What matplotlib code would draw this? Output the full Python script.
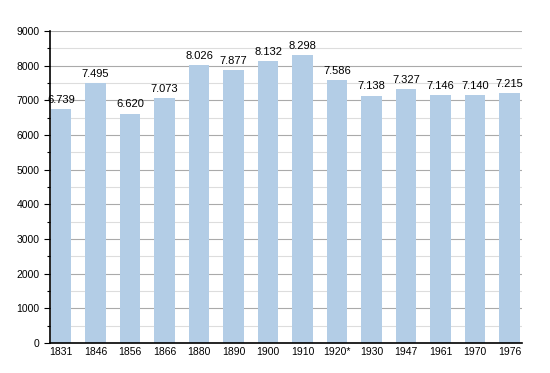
import matplotlib.pyplot as plt
from matplotlib.ticker import MultipleLocator

years = ['1831', '1846', '1856', '1866', '1880', '1890', '1900', '1910',
         '1920*', '1930', '1947', '1961', '1970', '1976']
population = [6739, 7495, 6620, 7073, 8026, 7877, 8132, 8298,
              7586, 7138, 7327, 7146, 7140, 7215]

plt.rcParams['font.family'] = ['Liberation Sans', 'DejaVu Sans']

fig = plt.figure(figsize=(5.5, 3.73), dpi=100)
ax = fig.add_axes([0.0909, 0.0804, 0.858, 0.8365])

x = list(range(len(years)))
ax.bar(x, population, width=0.6, color='#b3cde6', zorder=2)

for xi, v in zip(x, population):
    label = f'{v:,}'.replace(',', '.')
    ax.text(xi, v + 120, label, ha='center', va='bottom', fontsize=8, zorder=3)

ax.set_xlim(-0.32, 13.36)
ax.set_ylim(0, 9000)
ax.set_xticks(x)
ax.set_xticklabels(years, fontsize=7.5)
ax.yaxis.set_major_locator(MultipleLocator(1000))
ax.yaxis.set_minor_locator(MultipleLocator(500))
ax.tick_params(axis='y', labelsize=7.5, length=4, width=0.8)
ax.tick_params(axis='y', which='minor', length=2.5, width=0.8)
ax.tick_params(axis='x', length=0, pad=3)

ax.grid(axis='y', which='major', color='#aaaaaa', linewidth=0.8, zorder=0)
ax.grid(axis='y', which='minor', color='#dddddd', linewidth=0.8, zorder=0)

for s in ['top', 'right']:
    ax.spines[s].set_visible(False)
ax.spines['left'].set_linewidth(1.2)
ax.spines['bottom'].set_linewidth(1.2)

fig.savefig('out.png', dpi=100)
